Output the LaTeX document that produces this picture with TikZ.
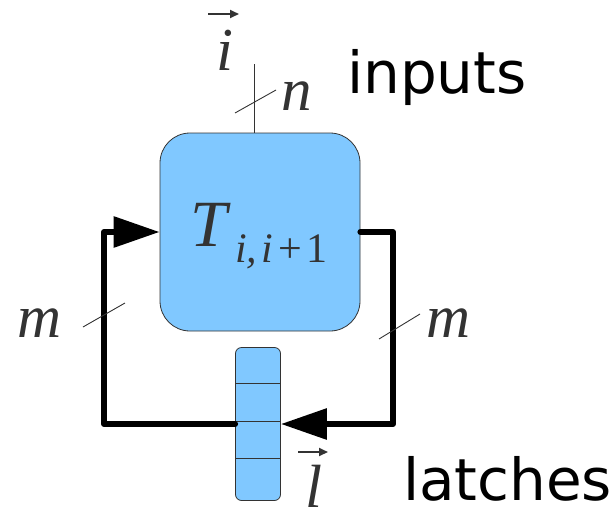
\documentclass[tikz,border=0pt]{standalone}
\usepackage{fontspec}
\usetikzlibrary{arrows.meta}
\newfontfamily\labfont{Liberation Serif}
\newfontfamily\wordfont{DejaVu Sans}
\definecolor{boxblue}{RGB}{128,200,255}
\definecolor{ink}{RGB}{51,51,51}
\begin{document}
\begin{tikzpicture}[x=1pt,y=-1pt,
  blockbox/.style={draw=ink,line width=0.8pt,fill=boxblue,rounded corners=30pt,
    minimum width=200pt,minimum height=198pt,inner sep=0pt},
  latchbox/.style={draw=ink,line width=0.8pt,fill=boxblue,rounded corners=6pt,
    minimum width=45pt,minimum height=153pt,inner sep=0pt},
  feedback/.style={line width=6pt,line join=round,line cap=round,
    -{Triangle[length=46pt,width=30pt]}},
  thin/.style={line width=0.9pt,ink},
  mathlab/.style={font=\labfont\itshape\fontsize{61}{61}\selectfont,text=ink,inner sep=0pt},
  wordlab/.style={font=\wordfont\fontsize{58}{58}\selectfont,text=black,inner sep=0pt},
  vecarrow/.style={line width=2pt,ink,-{Triangle[length=9pt,width=8pt]}}]
\useasboundingbox (0,0) rectangle (616,512);

% main block
\node[blockbox] (T) at (260,232) {};
\node[font=\labfont\itshape\fontsize{66}{66}\selectfont,text=ink,inner sep=0pt,anchor=base west] (Tl) at (190,246) {T};
\node[font=\labfont\fontsize{42}{42}\selectfont,text=ink,inner sep=0pt,anchor=base west] (Ts) at (235,262) {\itshape i,\hspace{4pt}i\upshape\hspace{5pt}+\hspace{5pt}1};

% latches
\node[latchbox] (L) at (258,424) {};
\draw[thin] (L.west |- 0,383) -- (L.east |- 0,383);
\draw[thin] (L.west |- 0,421) -- (L.east |- 0,421);
\draw[thin] (L.west |- 0,458) -- (L.east |- 0,458);

% input line
\coordinate (itop) at (254,64);
\draw[thin] (itop) -- (itop |- T.north);
\coordinate (sn1) at (235,113);
\coordinate (sn2) at (276,90);
\draw[thin] (sn1) -- (sn2);
\node[mathlab,anchor=base west] (n) at (281,110) {n};
\node[mathlab,anchor=base] (ivec) at (225,70) {i};
\coordinate (ia1) at (208,14);
\coordinate (ia2) at (239,14);
\draw[vecarrow] (ia1) -- (ia2);
\node[wordlab,anchor=base west] (inputs) at (347,93) {inputs};

% feedback loops
\coordinate (bl) at (104,424);
\coordinate (tl) at (104,232);
\coordinate (tr) at (393,232);
\coordinate (br) at (393,424);
\draw[feedback] (L.west) -- (bl) -- (tl) -- (T.west);
\draw[feedback] (T.east) -- (tr) -- (br) -- (L.east);

% m labels
\coordinate (sl1) at (83,327);
\coordinate (sl2) at (125,303);
\draw[thin] (sl1) -- (sl2);
\node[mathlab,anchor=base] (ml) at (40,337) {m};
\coordinate (sr1) at (379,339);
\coordinate (sr2) at (420,314);
\draw[thin] (sr1) -- (sr2);
\node[mathlab,anchor=base] (mr) at (449,337) {m};

% l vector
\node[mathlab,anchor=base] (lvec) at (314,507) {l};
\coordinate (la1) at (298,452);
\coordinate (la2) at (328,452);
\draw[vecarrow] (la1) -- (la2);
\node[wordlab,anchor=base west] (latches) at (403,500) {latches};
\end{tikzpicture}
\end{document}
